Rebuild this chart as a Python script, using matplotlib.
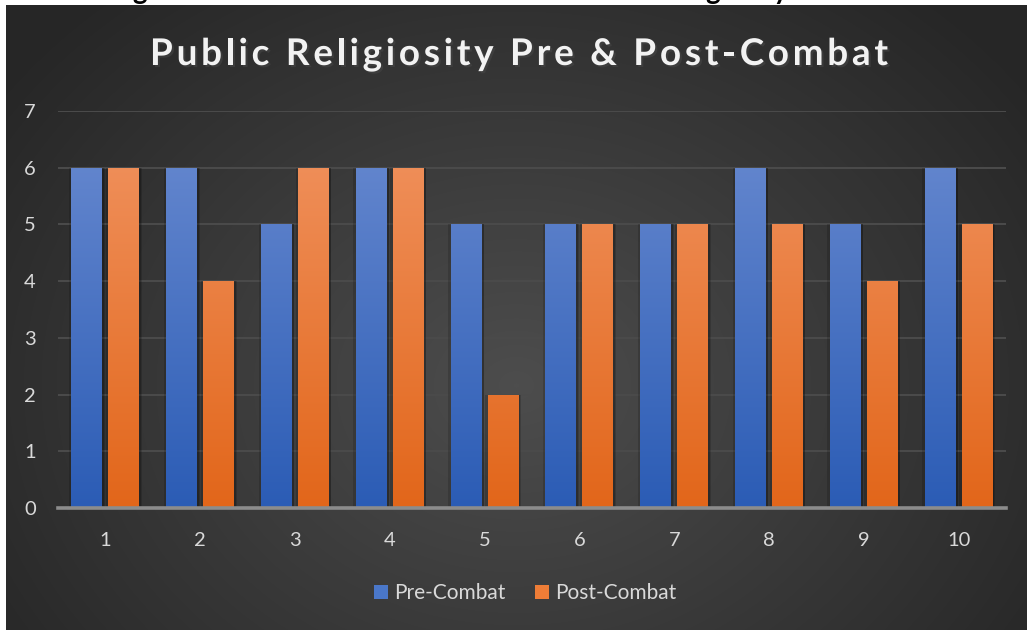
import numpy as np
import matplotlib.pyplot as plt
import matplotlib.patheffects as pe
from matplotlib.colors import LinearSegmentedColormap
from matplotlib.patches import Patch

plt.rcParams['font.family'] = ['Lato', 'DejaVu Sans']

# the data
participants = ['1', '2', '3', '4', '5', '6', '7', '8', '9', '10']
pre_combat = [6, 6, 5, 6, 5, 5, 5, 6, 5, 6]
post_combat = [6, 4, 6, 6, 2, 5, 5, 5, 4, 5]
title = 'Public Religiosity Pre & Post-Combat'

W, H = 1027, 630
fig = plt.figure(figsize=(W / 100, H / 100), dpi=100, facecolor='white')

# cut-off document caption above the chart (only descenders show)
fig.text(163 / W, 1 + 1.5 / H, 'Figure 5: Change', ha='right', va='baseline',
         fontsize=20, fontweight='bold', color='black', zorder=-2)
fig.text(788 / W, 1 + 1.5 / H, 'in Public Religiosity', ha='right', va='baseline',
         fontsize=20, fontweight='bold', color='black', zorder=-2)

# dark radial background panel
bg = fig.add_axes([6 / W, 0, 1 - 6 / W, 1 - 5 / H], zorder=0)
yy, xx = np.mgrid[0:625, 0:1021]
d = np.sqrt(((xx - 510) / 640.0) ** 2 + ((yy - 380) / 520.0) ** 2)
d = np.clip(d, 0, 1)
bg_cmap = LinearSegmentedColormap.from_list('bg', ['#4d4d4d', '#262626'])
bg.imshow(d, cmap=bg_cmap, aspect='auto', extent=[0, 1, 0, 1], origin='upper')
bg.set_axis_off()

# plot area
ax = fig.add_axes([58 / W, 1 - 508 / H, (1006 - 58) / W, (508 - 111) / H], zorder=1)
ax.patch.set_alpha(0)

x = np.arange(1, len(participants) + 1)
bw = 0.327
off = 0.195

blue = LinearSegmentedColormap.from_list('blue', ['#2b5cb5', '#6688cf'])
orange = LinearSegmentedColormap.from_list('orange', ['#e2661a', '#f0915d'])
grad = np.linspace(0, 1, 256).reshape(-1, 1)

for vals, shift, cmap in [(pre_combat, -off, blue), (post_combat, off, orange)]:
    # soft shadow
    ax.bar(x + shift, vals, width=bw + 0.05, color='black', alpha=0.15, zorder=2)
    ax.bar(x + shift + 0.01, vals, width=bw + 0.02, color='black', alpha=0.2, zorder=2)
    bars = ax.bar(x + shift, vals, width=bw, color='none', zorder=3)
    for b in bars:
        x0 = b.get_x()
        im = ax.imshow(grad, cmap=cmap, origin='lower', aspect='auto', zorder=3,
                       extent=[x0, x0 + b.get_width(), 0, 6.5])
        im.set_clip_path(b)

ax.set_xlim(0.5, 10.5)
ax.set_ylim(0, 7)

ax.set_yticks(range(0, 8))
ax.yaxis.grid(True, color='#4b4b4b', linewidth=1.4, zorder=1)
ax.set_axisbelow(True)
ax.axhline(0, color='#8c8c8c', linewidth=2.6, zorder=4, clip_on=False)

ax.set_xticks(x)
ax.set_xticklabels(participants)
ax.tick_params(axis='both', length=0, labelsize=14.5, labelcolor='#d9d9d9')
ax.tick_params(axis='y', pad=16)
ax.tick_params(axis='x', pad=17)
for s in ax.spines.values():
    s.set_visible(False)

# title with letter spacing, stretched to the width seen in the chart
renderer = fig.canvas.get_renderer()
tkw = dict(fontsize=26.5, fontweight='bold', color='#f2f2f2', va='center', zorder=5,
           path_effects=[pe.withSimplePatchShadow(offset=(1.5, -1.5), alpha=0.5)])


def text_width(s):
    t = fig.text(0, 0, s.replace(' ', '\u00a0'), **tkw)
    w = t.get_window_extent(renderer).width
    t.remove()
    return w


natural = text_width(title)
spacing = (738 - natural) / (len(title) - 1)
x_left = 150
for i, ch in enumerate(title):
    xpos = x_left + (text_width(title[:i]) if i else 0) + i * spacing
    fig.text(xpos / W, 1 - 54.5 / H, ch, ha='left', **tkw)

handles = [Patch(facecolor='#4a77c9', label='Pre-Combat'),
           Patch(facecolor='#ee7d37', label='Post-Combat')]
fig.legend(handles=handles, loc='center', bbox_to_anchor=(525 / W, 1 - 593 / H),
           ncol=2, frameon=False, fontsize=15, labelcolor='#d9d9d9',
           handlelength=0.68, handleheight=0.68, handletextpad=0.3,
           columnspacing=1.4)

fig.savefig('out.png', dpi=100, facecolor='white')
